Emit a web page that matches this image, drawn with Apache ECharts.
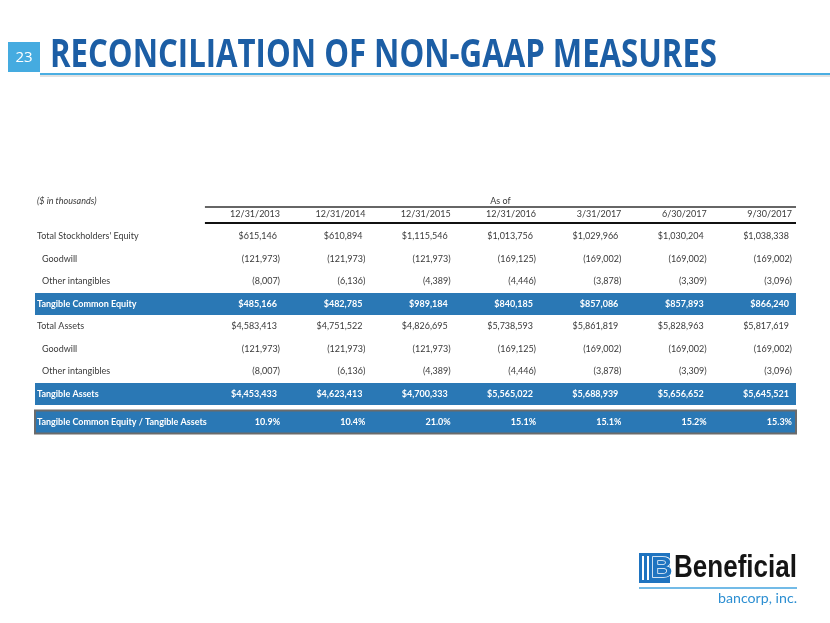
<!DOCTYPE html>
<html>
<head>
<meta charset="utf-8">
<script src="https://cdn.jsdelivr.net/npm/echarts@6/dist/echarts.min.js"></script>
<style>
html,body{margin:0;padding:0;background:#fff;}
#chart{width:830px;height:623px;}
</style>
</head>
<body>
<div id="chart"></div>
<script>
// ---- Data ----
const columnLabels = ['12/31/2013','12/31/2014','12/31/2015','12/31/2016','3/31/2017','6/30/2017','9/30/2017'];
const rowLabels = ["Total Stockholders' Equity", 'Goodwill', 'Other intangibles', 'Tangible Common Equity',
  'Total Assets', 'Goodwill', 'Other intangibles', 'Tangible Assets', 'Tangible Common Equity / Tangible Assets'];
const rowTypes = ['item','deduction','deduction','subtotal','item','deduction','deduction','subtotal','ratio'];
const totalStockholdersEquity = [615146, 610894, 1115546, 1013756, 1029966, 1030204, 1038338];
const goodwillEquity = [-121973, -121973, -121973, -169125, -169002, -169002, -169002];
const otherIntangiblesEquity = [-8007, -6136, -4389, -4446, -3878, -3309, -3096];
const tangibleCommonEquity = [485166, 482785, 989184, 840185, 857086, 857893, 866240];
const totalAssets = [4583413, 4751522, 4826695, 5738593, 5861819, 5828963, 5817619];
const goodwillAssets = [-121973, -121973, -121973, -169125, -169002, -169002, -169002];
const otherIntangiblesAssets = [-8007, -6136, -4389, -4446, -3878, -3309, -3096];
const tangibleAssets = [4453433, 4623413, 4700333, 5565022, 5688939, 5656652, 5645521];
const tceRatio = [10.9, 10.4, 21.0, 15.1, 15.1, 15.2, 15.3];
const rowValues = [totalStockholdersEquity, goodwillEquity, otherIntangiblesEquity, tangibleCommonEquity,
  totalAssets, goodwillAssets, otherIntangiblesAssets, tangibleAssets, tceRatio];
const unitNote = '($ in thousands)';
const headerNote = 'As of';

// ---- Helpers ----
function fmt(v, type) {
  if (type === 'ratio') return v.toFixed(1) + '%';
  const s = Math.abs(v).toLocaleString('en-US');
  return v < 0 ? '(' + s + ')' : '$' + s;
}
const measureCtx = document.createElement('canvas').getContext('2d');
function fitScale(text, font, width) {
  measureCtx.font = font;
  return width / measureCtx.measureText(text).width;
}

const X_MIN = -2.848;
const X_MAX = 6;
const LINE_START = -0.88;
const TEXT = '#3a3a3a';
const BAND = '#2a78b5';
const FONT = '"Lato", "Open Sans", sans-serif';

// rows: 0 = header, 1..9 = data rows
const tableData = [[0, 0]].concat(rowLabels.map((_, i) => [0, i + 1]));

function renderRow(params, api) {
  const r = params.dataIndex;
  const y = api.value(1);
  const children = [];
  const rowH = api.size([0, 1])[1];
  if (r === 0) {
    // header
    const yc = api.coord([0, y])[1];
    const lx0 = api.coord([LINE_START, y])[0];
    const lx1 = api.coord([X_MAX, y])[0] + 4;
    const left = api.coord([X_MIN, y])[0];
    children.push({type: 'text', style: {text: unitNote, x: left, y: yc - 13, fill: TEXT,
      font: 'italic 9px ' + FONT, align: 'left', verticalAlign: 'middle'}});
    children.push({type: 'text', style: {text: headerNote, x: (lx0 + lx1) / 2, y: yc - 13, fill: TEXT,
      font: '9px ' + FONT, align: 'center', verticalAlign: 'middle'}});
    children.push({type: 'line', shape: {x1: lx0, y1: yc - 7, x2: lx1, y2: yc - 7},
      style: {stroke: '#333', lineWidth: 1.5}});
    children.push({type: 'line', shape: {x1: lx0, y1: yc + 9, x2: lx1, y2: yc + 9},
      style: {stroke: '#111', lineWidth: 2}});
    columnLabels.forEach((lab, c) => {
      const p = api.coord([c, y]);
      children.push({type: 'text', style: {text: lab, x: p[0], y: p[1], fill: TEXT,
        font: '9px ' + FONT, align: 'right', verticalAlign: 'middle'}});
    });
    return {type: 'group', children};
  }
  const i = r - 1;
  const type = rowTypes[i];
  const shift = type === 'ratio' ? 5.5 : 0;
  const p0 = api.coord([X_MIN, y]);
  const yc = p0[1] + shift;
  const xRight = api.coord([X_MAX, y])[0] + 4;
  const banded = type === 'subtotal' || type === 'ratio';
  if (banded) {
    const h = type === 'ratio' ? 23 : rowH - 0.5;
    children.push({type: 'rect', shape: {x: p0[0] - 2, y: yc - h / 2, width: xRight - p0[0] + 2, height: h},
      style: {fill: BAND, stroke: type === 'ratio' ? '#6b6b6b' : null, lineWidth: type === 'ratio' ? 2 : 0}});
  }
  const color = banded ? '#fff' : TEXT;
  const weight = banded ? 'bold ' : '';
  children.push({type: 'text', style: {text: rowLabels[i], x: p0[0] + (type === 'deduction' ? 5 : 0), y: yc,
    fill: color, font: weight + '9px ' + FONT, align: 'left', verticalAlign: 'middle'}});
  rowValues[i].forEach((v, c) => {
    const p = api.coord([c, y]);
    const off = (type !== 'ratio' && v >= 0) ? -3 : 0;
    children.push({type: 'text', style: {text: fmt(v, type), x: p[0] + off, y: yc,
      fill: color, font: weight + '9px ' + FONT, align: 'right', verticalAlign: 'middle'}});
  });
  return {type: 'group', children};
}

const titleText = 'RECONCILIATION OF NON-GAAP MEASURES';
const titleFont = 'bold 39px "Open Sans", sans-serif';
const brandFont = 'bold 32px "Liberation Sans", sans-serif';
const subFont = '13px "Lato", sans-serif';

const chart = echarts.init(document.getElementById('chart'), null, {renderer: 'canvas'});
chart.setOption({
  animation: false,
  backgroundColor: '#fff',
  grid: {left: 37, right: 38, top: 191.5, bottom: 184},
  xAxis: {type: 'value', min: X_MIN, max: X_MAX, show: false},
  yAxis: {type: 'value', min: -1, max: 10, inverse: true, show: false},
  series: [{
    type: 'custom',
    coordinateSystem: 'cartesian2d',
    clip: false,
    data: tableData,
    renderItem: renderRow
  }],
  graphic: [
    {type: 'rect', shape: {x: 8, y: 42, width: 32, height: 30}, style: {fill: '#45abe0'}},
    {type: 'text', x: 24, y: 58, style: {text: '23', fill: '#fff', font: '15px "Open Sans", sans-serif', align: 'center', verticalAlign: 'middle'}},
    {type: 'line', shape: {x1: 40, y1: 76, x2: 830, y2: 76}, style: {stroke: '#e2e2e2', lineWidth: 2}},
    {type: 'line', shape: {x1: 40, y1: 74, x2: 830, y2: 74}, style: {stroke: '#4aaee2', lineWidth: 2}},
    {type: 'text', x: 50, y: 56, scaleX: fitScale(titleText, titleFont, 667),
      style: {text: titleText, fill: '#1c5ea5', font: titleFont, align: 'left', verticalAlign: 'middle'}},
    // logo
    {type: 'rect', shape: {x: 639, y: 553, width: 31, height: 30}, style: {fill: '#1f74c0'}},
    {type: 'rect', shape: {x: 642, y: 556, width: 2, height: 24}, style: {fill: '#fff'}},
    {type: 'rect', shape: {x: 647, y: 556, width: 2, height: 24}, style: {fill: '#fff'}},
    {type: 'text', x: 651, y: 569, style: {text: 'B', fill: '#1f74c0', stroke: '#fff', lineWidth: 1.5,
      font: 'bold 30px "Liberation Sans", sans-serif', align: 'left', verticalAlign: 'middle'}},
    {type: 'text', x: 674, y: 568, scaleX: fitScale('Beneficial', brandFont, 123),
      style: {text: 'Beneficial', fill: '#151515', font: brandFont, align: 'left', verticalAlign: 'middle'}},
    {type: 'line', shape: {x1: 639, y1: 588, x2: 797, y2: 588}, style: {stroke: '#45a4df', lineWidth: 1.5}},
    {type: 'text', x: 718, y: 599, scaleX: fitScale('bancorp, inc.', subFont, 79),
      style: {text: 'bancorp, inc.', fill: '#2d8fd2', font: subFont, align: 'left', verticalAlign: 'middle'}}
  ]
});
</script>
</body>
</html>
